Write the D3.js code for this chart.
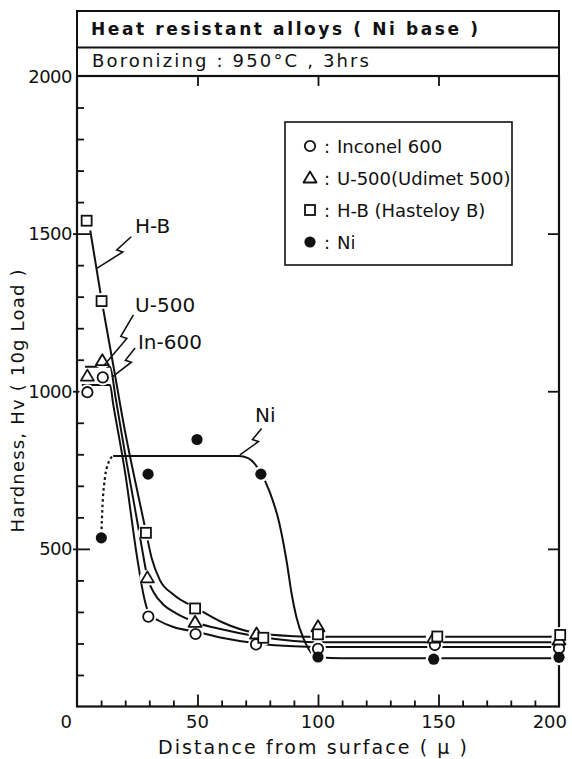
<!DOCTYPE html>
<html>
<head>
<meta charset="utf-8">
<script src="https://cdn.jsdelivr.net/npm/d3@7"></script>
<style>
  body { margin: 0; background: #fff; }
  svg { display: block; }
  text { font-family: "DejaVu Sans", sans-serif; fill: #111; }
</style>
</head>
<body>
<svg id="chart" width="572" height="759"></svg>
<script>
// Chart data
var titleLines = ["Heat resistant alloys ( Ni base )", "Boronizing : 950\u00b0C , 3hrs"];
var xLabel = "Distance from surface ( \u03bc )";
var yLabel = "Hardness, Hv ( 10g Load )";
var xTickLabels = [0, 50, 100, 150, 200];
var yTickLabels = [500, 1000, 1500, 2000];
var legendLabels = ["Inconel 600", "U-500(Udimet 500)", "H-B (Hasteloy B)", "Ni"];
var legendSymbols = ["circle", "triangle", "square", "dot"];

// measured points [distance, hardness]
var inconelPoints = [[4.3, 997], [10.7, 1044], [29.6, 285], [49.2, 230], [74.3, 197], [100, 183], [148.5, 195], [200, 185]];
var udimetPoints = [[4.3, 1048], [10.5, 1097], [29.2, 408], [49, 267], [74.5, 230], [100, 253], [148, 217], [200, 211]];
var hastelloyPoints = [[4, 1541], [10.2, 1286], [28.6, 551], [49, 311], [77.3, 218], [100, 229], [149.5, 222], [200.5, 227]];
var nickelPoints = [[10.1, 535], [29.5, 737], [49.8, 847], [76.3, 737], [100, 157], [148, 150], [200, 156]];

// hand drawn fit curves
var inconelCurve = [[2, 1020], [13.7, 1020], [15, 960], [20, 740], [25, 470], [28, 340], [30, 292], [34, 272], [40, 252], [50, 236], [60, 218], [75, 200], [90, 191], [100, 189], [200, 189]];
var udimetCurve = [[3.3, 1078], [13.7, 1078], [16, 980], [20, 800], [24, 630], [27, 500], [29.2, 410], [32, 360], [36, 322], [41, 296], [50, 265], [60, 245], [75, 222], [90, 208], [100, 204], [200, 204]];
var hastelloyCurve = [[5.5, 1510], [10.2, 1290], [15, 1085], [20, 870], [24, 720], [28.6, 555], [31, 470], [34.4, 401], [40, 355], [50, 310], [60, 268], [75, 232], [90, 223], [100, 221], [200, 221]];
var nickelCurve = [[15, 795], [67, 795], [71, 788], [76, 745], [80, 680], [84, 580], [87, 460], [89, 360], [91, 285], [94, 215], [97, 172], [100, 157], [110, 153], [200, 153]];
var nickelDashed = [[10.1, 545], [10.6, 640], [11.5, 720], [13, 772], [15, 795]];

// curve labels with lightning leaders
var annoLabels = ["H-B", "U-500", "In-600", "Ni"];
var annoText = [[24.1, 1524], [24.1, 1273], [25.3, 1157], [73.9, 925]];
var annoFrom = [[22.5, 1490], [23.4, 1242], [24.1, 1137], [76.6, 882]];
var annoTo = [[8.2, 1390], [11, 1080], [14.5, 1045], [67.6, 798]];

var svg = d3.select("#chart");
var plotLeft = 77, plotRight = 559, plotTop = 76, plotBottom = 706.5;

var x = d3.scaleLinear().domain([0, 200]).range([plotLeft, plotRight]);
var y = d3.scaleLinear().domain([0, 2000]).range([plotBottom, plotTop]);

svg.append("rect").attr("width", 572).attr("height", 759).attr("fill", "#fff");

// Title boxes
svg.append("rect")
    .attr("x", plotLeft).attr("y", 11)
    .attr("width", plotRight - plotLeft).attr("height", plotTop - 11)
    .attr("fill", "none").attr("stroke", "#111").attr("stroke-width", 2);
svg.append("line")
    .attr("x1", plotLeft).attr("x2", plotRight).attr("y1", 47.5).attr("y2", 47.5)
    .attr("stroke", "#111").attr("stroke-width", 2);
svg.append("text").attr("x", 91).attr("y", 35)
    .attr("font-size", 17).attr("font-weight", "bold")
    .attr("textLength", 387).attr("lengthAdjust", "spacing")
    .text(titleLines[0]);
svg.append("text").attr("x", 92).attr("y", 67)
    .attr("font-size", 18)
    .attr("textLength", 277).attr("lengthAdjust", "spacing")
    .text(titleLines[1]);

// Ticks, all pointing into the plot
function tickGroup(axis, tx, ty) {
    var g = svg.append("g").attr("transform", "translate(" + tx + "," + ty + ")").call(axis);
    g.select(".domain").remove();
    g.selectAll("line").attr("stroke", "#111").attr("stroke-width", 1.8);
    g.selectAll("text").remove();
}
var xMinor = d3.range(10, 200, 10).filter(function (v) { return v % 50 !== 0; });
var yMinor = d3.range(100, 2000, 100).filter(function (v) { return v % 500 !== 0; });

tickGroup(d3.axisBottom(x).tickValues(xMinor).tickSize(-6), 0, plotBottom);
tickGroup(d3.axisBottom(x).tickValues([50, 100, 150]).tickSize(-12), 0, plotBottom);
tickGroup(d3.axisTop(x).tickValues([50, 100, 150]).tickSize(-10), 0, plotTop);
tickGroup(d3.axisLeft(y).tickValues(yMinor).tickSize(-7), plotLeft, 0);
tickGroup(d3.axisLeft(y).tickValues([500, 1000, 1500]).tickSize(-17), plotLeft - 4, 0);
tickGroup(d3.axisRight(y).tickValues([500, 1000, 1500]).tickSize(-11), plotRight, 0);

// Tick labels
svg.selectAll(".xlab").data(xTickLabels).enter().append("text")
    .attr("class", "xlab")
    .attr("x", function (d) { return d === 0 ? x(d) - 5 : d === 200 ? x(d) + 8 : x(d); })
    .attr("y", 728)
    .attr("font-size", 18)
    .attr("text-anchor", function (d) { return d === 0 ? "end" : d === 200 ? "end" : "middle"; })
    .text(function (d) { return d; });

svg.selectAll(".ylab").data(yTickLabels).enter().append("text")
    .attr("class", "ylab")
    .attr("x", plotLeft - 5)
    .attr("y", function (d) { return y(d) + 6.5; })
    .attr("font-size", 18)
    .attr("text-anchor", "end")
    .attr("letter-spacing", -0.5)
    .text(function (d) { return d; });

// Axis titles
svg.append("text").attr("x", 312.5).attr("y", 754)
    .attr("font-size", 19).attr("text-anchor", "middle")
    .attr("textLength", 309).attr("lengthAdjust", "spacing")
    .text(xLabel);
svg.append("text")
    .attr("transform", "translate(24,401) rotate(-90)")
    .attr("font-size", 18).attr("text-anchor", "middle")
    .attr("textLength", 263).attr("lengthAdjust", "spacing")
    .text(yLabel);

// Plot frame
svg.append("rect")
    .attr("x", plotLeft).attr("y", plotTop)
    .attr("width", plotRight - plotLeft).attr("height", plotBottom - plotTop)
    .attr("fill", "none").attr("stroke", "#111").attr("stroke-width", 2.2);

// Fit curves
var line = d3.line()
    .x(function (d) { return x(d[0]); })
    .y(function (d) { return y(d[1]); })
    .curve(d3.curveMonotoneX);

[inconelCurve, udimetCurve, hastelloyCurve, nickelCurve].forEach(function (c) {
    svg.append("path").attr("d", line(c))
        .attr("fill", "none").attr("stroke", "#111").attr("stroke-width", 2);
});
svg.append("path").attr("d", line(nickelDashed))
    .attr("fill", "none").attr("stroke", "#111").attr("stroke-width", 2.2)
    .attr("stroke-dasharray", "2.5,3");

// Title Marker
// Draws one open / filled marker of the given type
function drawMarker(g, type, cx, cy) {
    if (type === "circle") {
        g.append("circle").attr("cx", cx).attr("cy", cy).attr("r", 5.2)
            .attr("fill", "#fff").attr("stroke", "#111").attr("stroke-width", 1.8);
    } else if (type === "dot") {
        g.append("circle").attr("cx", cx).attr("cy", cy).attr("r", 5.6).attr("fill", "#111");
    } else if (type === "square") {
        g.append("rect").attr("x", cx - 5).attr("y", cy - 5).attr("width", 10).attr("height", 10)
            .attr("fill", "#fff").attr("stroke", "#111").attr("stroke-width", 1.8);
    } else {
        g.append("path")
            .attr("d", "M" + cx + "," + (cy - 6.5) + "L" + (cx + 6.5) + "," + (cy + 4.5) + "L" + (cx - 6.5) + "," + (cy + 4.5) + "Z")
            .attr("fill", "#fff").attr("stroke", "#111").attr("stroke-width", 1.8).attr("stroke-linejoin", "round");
    }
}

var pointSets = [
    { pts: inconelPoints, sym: "circle" },
    { pts: udimetPoints, sym: "triangle" },
    { pts: hastelloyPoints, sym: "square" },
    { pts: nickelPoints, sym: "dot" }
];

// white halos first, so lines stop short of the markers
var halos = svg.append("g");
pointSets.forEach(function (s) {
    s.pts.forEach(function (p) {
        halos.append("circle").attr("cx", x(p[0])).attr("cy", y(p[1])).attr("r", 8).attr("fill", "#fff");
    });
});
var markers = svg.append("g");
pointSets.forEach(function (s) {
    s.pts.forEach(function (p) { drawMarker(markers, s.sym, x(p[0]), y(p[1])); });
});

// Title Annotations
// Curve names with a lightning-shaped leader line
annoLabels.forEach(function (label, i) {
    var s = [x(annoFrom[i][0]), y(annoFrom[i][1])];
    var e = [x(annoTo[i][0]), y(annoTo[i][1])];
    var a = [s[0] + (e[0] - s[0]) * 0.42, s[1] + (e[1] - s[1]) * 0.42];
    var b = [a[0] + 6, a[1] + 2];
    svg.append("path")
        .attr("d", d3.line()([s, a, b, e]))
        .attr("fill", "none").attr("stroke", "#111").attr("stroke-width", 1.6);
    svg.append("text")
        .attr("x", x(annoText[i][0])).attr("y", y(annoText[i][1]) + 7)
        .attr("font-size", 20)
        .text(label);
});

// Legend
var legend = svg.append("g");
legend.append("rect")
    .attr("x", 285).attr("y", 122).attr("width", 227).attr("height", 143)
    .attr("fill", "#fff").attr("stroke", "#111").attr("stroke-width", 1.6);
legendLabels.forEach(function (label, i) {
    var cy = 146 + i * 32;
    drawMarker(legend, legendSymbols[i], 310, cy);
    legend.append("text").attr("x", 324).attr("y", cy + 6.5).attr("font-size", 18).text(":");
    legend.append("text").attr("x", 337).attr("y", cy + 6.5).attr("font-size", 18).text(label);
});
</script>
</body>
</html>
